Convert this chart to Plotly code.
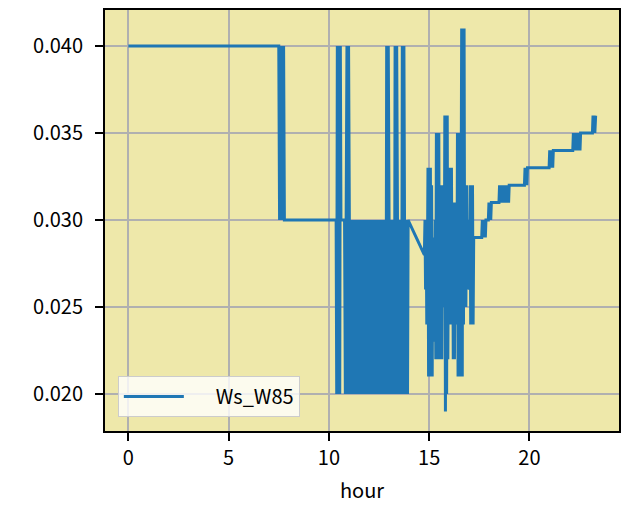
import plotly.graph_objects as go

# ---- data: (hour, Ws_W85) pairs, by stretch of the day ----
early_pts = [(0.00, .040), (7.50, .040), (7.54, .030), (7.58, .040), (7.62, .030),
             (7.66, .040), (7.70, .030), (7.74, .040), (7.78, .030)]

block_start_pts = [(10.36, .030), (10.39, .020), (10.42, .040), (10.46, .020), (10.50, .040),
                   (10.54, .020), (10.57, .040), (10.60, .030),
                   (10.78, .030), (10.82, .020), (10.86, .030), (10.90, .040), (10.94, .020),
                   (10.98, .040), (11.02, .030)]

block_mid_hour = [11.05, 11.08, 11.11, 11.14, 11.17, 11.20, 11.23, 11.26, 11.29, 11.32,
                  11.35, 11.38, 11.41, 11.44, 11.47, 11.50, 11.53, 11.56, 11.59, 11.62,
                  11.65, 11.68, 11.71, 11.74, 11.77, 11.80, 11.83, 11.86, 11.89, 11.92,
                  11.95, 11.98, 12.01, 12.04, 12.07, 12.10, 12.13, 12.16, 12.19, 12.22,
                  12.25, 12.28, 12.31, 12.34, 12.37, 12.40, 12.43, 12.46, 12.49, 12.52,
                  12.55, 12.58, 12.61, 12.64, 12.67, 12.70, 12.73, 12.76, 12.79, 12.82]
block_mid_ws = [.020, .030, .020, .030, .020, .030, .020, .030, .020, .030,
                .020, .030, .020, .030, .020, .030, .020, .030, .020, .030,
                .020, .030, .020, .030, .020, .030, .020, .030, .020, .030,
                .020, .030, .020, .030, .020, .030, .020, .030, .020, .030,
                .020, .030, .020, .030, .020, .030, .020, .030, .020, .030,
                .020, .030, .020, .030, .020, .030, .020, .030, .020, .030]

block_end_pts = [(12.85, .020), (12.88, .040), (12.92, .020), (12.96, .040), (13.00, .030),
                 (13.03, .020), (13.06, .030), (13.09, .020), (13.12, .030), (13.15, .020),
                 (13.18, .030), (13.21, .020), (13.24, .030), (13.27, .020), (13.30, .040),
                 (13.34, .020), (13.38, .040), (13.42, .030), (13.45, .020), (13.48, .030),
                 (13.51, .020), (13.54, .030), (13.57, .020), (13.60, .030), (13.63, .020),
                 (13.66, .040), (13.70, .020), (13.74, .040), (13.77, .030), (13.80, .020),
                 (13.83, .030), (13.86, .020), (13.89, .030), (13.92, .020), (13.95, .030)]

burst_pts = [(14.76, .028), (14.79, .030), (14.82, .026), (14.85, .030), (14.88, .024),
             (14.91, .027), (14.94, .033), (14.97, .021), (15.00, .033), (15.03, .021),
             (15.06, .033), (15.09, .021), (15.12, .032), (15.15, .021), (15.18, .029),
             (15.21, .023), (15.24, .029), (15.27, .023), (15.30, .030), (15.33, .022),
             (15.36, .035), (15.39, .022), (15.42, .035), (15.45, .022), (15.48, .035),
             (15.51, .022), (15.54, .032), (15.57, .023), (15.60, .030), (15.63, .022),
             (15.66, .032), (15.69, .025), (15.72, .032), (15.75, .025), (15.78, .036),
             (15.81, .019), (15.84, .036), (15.87, .020), (15.90, .036), (15.93, .022),
             (15.96, .029), (15.99, .033), (16.02, .024), (16.05, .033), (16.08, .024),
             (16.11, .033), (16.14, .026), (16.17, .031), (16.20, .022), (16.23, .031),
             (16.26, .022), (16.29, .031), (16.32, .024), (16.35, .029), (16.38, .024),
             (16.41, .035), (16.44, .021), (16.47, .035), (16.50, .021), (16.53, .035),
             (16.56, .021), (16.59, .030), (16.62, .041), (16.65, .021), (16.68, .041),
             (16.71, .024), (16.74, .041), (16.77, .025), (16.80, .032), (16.83, .025),
             (16.86, .032), (16.89, .026), (16.92, .030), (16.95, .026), (16.98, .029),
             (17.01, .026), (17.04, .032), (17.07, .024), (17.10, .032), (17.13, .024),
             (17.16, .032), (17.19, .024), (17.22, .029)]

step_pts = [(17.62, .029), (17.65, .030), (17.68, .029), (17.71, .030), (17.74, .029),
            (17.77, .030), (17.80, .029), (17.83, .030),
            (17.95, .030), (17.98, .031), (18.01, .030), (18.04, .031), (18.07, .030),
            (18.10, .031),
            (18.48, .031), (18.51, .032), (18.54, .031), (18.57, .032), (18.60, .031),
            (18.63, .032), (18.66, .031), (18.69, .032), (18.72, .031), (18.75, .032),
            (18.78, .031), (18.81, .032), (18.84, .031), (18.87, .032), (18.90, .031),
            (18.93, .032), (18.96, .031), (18.99, .032),
            (19.75, .032), (19.78, .033), (19.81, .032), (19.84, .033), (19.87, .032),
            (19.90, .033),
            (20.98, .033), (21.01, .034), (21.04, .033), (21.07, .034), (21.10, .033),
            (21.13, .034), (21.16, .033), (21.19, .034),
            (22.16, .034), (22.19, .035), (22.22, .034), (22.25, .035), (22.28, .034),
            (22.31, .035), (22.34, .034), (22.37, .035), (22.40, .034), (22.43, .035),
            (22.46, .034), (22.49, .035), (22.52, .034), (22.55, .035),
            (23.14, .035), (23.17, .036), (23.20, .035), (23.23, .036), (23.26, .035),
            (23.30, .036)]

x_ticks = [0, 5, 10, 15, 20]
y_ticks = [0.020, 0.025, 0.030, 0.035, 0.040]
y_tick_labels = ["0.020", "0.025", "0.030", "0.035", "0.040"]
series_name = "Ws_W85"

pairs = early_pts + block_start_pts + list(zip(block_mid_hour, block_mid_ws)) \
    + block_end_pts + burst_pts + step_pts
hour = [p[0] for p in pairs]
ws = [p[1] for p in pairs]

FONT = "Noto Sans CJK JP"

fig = go.Figure()
fig.add_trace(go.Scatter(x=hour, y=ws, mode="lines",
                         name="\u00a0" * 6 + series_name,
                         line=dict(color="#1f77b4", width=3, simplify=False)))

axis_common = dict(
    showgrid=True, gridcolor="#b0b0b0", gridwidth=2,
    showline=True, mirror=True, linecolor="black", linewidth=2,
    ticks="outside", ticklen=8, tickwidth=2, tickcolor="black",
    zeroline=False, tickfont=dict(family=FONT, size=20, color="black"),
)

fig.update_layout(
    width=622, height=520,
    margin=dict(l=105, r=1, t=10, b=89),
    paper_bgcolor="white", plot_bgcolor="#EEE8AA",
    font=dict(family=FONT, size=20, color="black"),
    xaxis=dict(range=[-1.165, 24.465], tickvals=x_ticks,
               title=dict(text="hour", font=dict(family=FONT, size=20), standoff=14),
               **axis_common),
    yaxis=dict(range=[0.017874, 0.04207], tickvals=y_ticks, ticktext=y_tick_labels,
               ticklabelstandoff=8, **axis_common),
    showlegend=True,
    legend=dict(x=0.025, y=0.033, xanchor="left", yanchor="bottom",
                bgcolor="rgba(255,255,255,0.8)", bordercolor="#cccccc", borderwidth=1,
                font=dict(family=FONT, size=20, color="black"), itemwidth=60),
)

fig.write_html("out.html", config={"displayModeBar": False},
               post_script="document.body.style.margin='0';")
